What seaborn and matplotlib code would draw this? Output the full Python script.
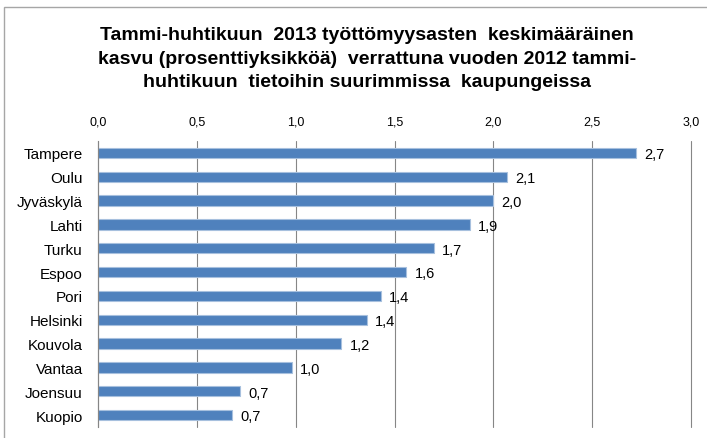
import numpy as np
import matplotlib
matplotlib.use("Agg")
import matplotlib.pyplot as plt
import seaborn as sns
import pandas as pd
from matplotlib.patches import Rectangle

# Chart data
cities = ["Tampere", "Oulu", "Jyväskylä", "Lahti", "Turku", "Espoo",
          "Pori", "Helsinki", "Kouvola", "Vantaa", "Joensuu", "Kuopio"]
growth = [2.72, 2.07, 2.00, 1.88, 1.70, 1.56, 1.43, 1.36, 1.23, 0.98, 0.72, 0.68]
x_ticks = [0.0, 0.5, 1.0, 1.5, 2.0, 2.5, 3.0]
title = ("Tammi-huhtikuun  2013 työttömyysasten  keskimääräinen\n"
         "kasvu (prosenttiyksikköä)  verrattuna vuoden 2012 tammi-\n"
         "huhtikuun  tietoihin suurimmissa  kaupungeissa")

df = pd.DataFrame({"city": cities, "growth": growth})

sns.set_style("white")
plt.rcParams['font.family'] = ['Liberation Sans Narrow', 'Liberation Sans', 'DejaVu Sans']
plt.rcParams['text.color'] = 'black'
plt.rcParams['xtick.color'] = 'black'
plt.rcParams['ytick.color'] = 'black'

fig = plt.figure(figsize=(7.07, 4.39), dpi=100)
ax = fig.add_axes([98 / 707, 1 - 428 / 439, (691 - 98) / 707, (428 - 142) / 439])

sns.barplot(data=df, x="growth", y="city", orient="h", color="#4F81BD",
            saturation=1, width=0.44, edgecolor="#A7C0DE", linewidth=0.8, ax=ax)

# value labels with decimal comma
for i, v in enumerate(growth):
    ax.annotate(f"{v:.1f}".replace(".", ","), xy=(v, i), xytext=(6, -1),
                textcoords="offset points", va="center", ha="left", fontsize=10.5)

ax.set_xlim(0, 3.0)
ax.set_ylim(len(cities) - 0.5, -0.5)
ax.set_xticks(x_ticks)
ax.set_xticklabels([f"{t:.1f}".replace(".", ",") for t in x_ticks], fontsize=9)
ax.xaxis.tick_top()
ax.tick_params(axis="x", length=0, pad=10)
ax.set_xlabel("")
ax.set_ylabel("")

# category labels, ticks between categories
ax.set_yticks(range(len(cities)))
ax.set_yticklabels(cities, fontsize=11)
ax.set_yticks(np.arange(-0.5, len(cities)), minor=True)
ax.tick_params(axis="y", which="major", length=0, pad=11)
ax.tick_params(axis="y", which="minor", length=5, width=0.8, color="#868686", direction="out")

ax.grid(axis="x", color="#868686", linewidth=0.8)
for gl in ax.xaxis.get_gridlines():
    gl.set_clip_on(False)
ax.set_axisbelow(True)
for s in ["top", "right", "bottom"]:
    ax.spines[s].set_visible(False)
ax.spines["left"].set_color("#868686")
ax.spines["left"].set_linewidth(0.8)

fig.text(367 / 707, 1 - 27 / 439, title, ha="center", va="top", fontsize=14,
         fontweight="bold", linespacing=1.5)

# chart border (only top and left edges visible in the crop)
fig.patches.append(Rectangle((4 / 707, -0.1), 1.2, 1 - 8 / 439 + 0.1,
                             transform=fig.transFigure, fill=False,
                             edgecolor="#A6A6A6", linewidth=1))

fig.savefig("out.png", dpi=100)
